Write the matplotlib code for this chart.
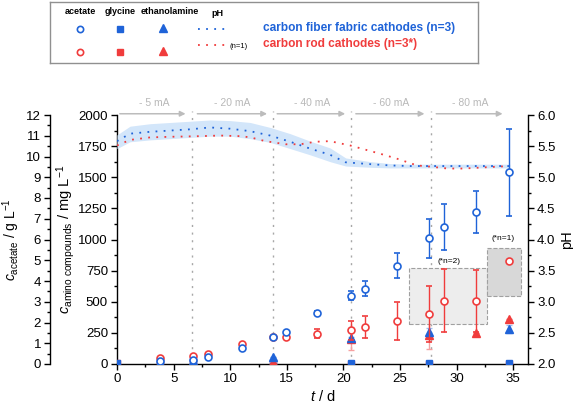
import matplotlib.pyplot as plt
import numpy as np
from matplotlib.patches import Rectangle

plt.rcParams['font.family'] = ['Liberation Sans', 'DejaVu Sans']
plt.rcParams['mathtext.fontset'] = 'custom'
plt.rcParams['mathtext.rm'] = 'Liberation Sans'
plt.rcParams['mathtext.it'] = 'Liberation Sans:italic'

BLUE = '#1f63d8'
RED = '#f03c3c'

# acetate (g/L)
t_ac = [3.8, 6.7, 8.0, 11.0, 13.8, 14.9, 17.7, 20.7, 21.9, 24.7, 27.6, 28.9, 31.7, 34.6]
ac_fiber = [0.15, 0.2, 0.32, 0.75, 1.3, 1.55, 2.45, 3.3, 3.63, 4.74, 6.05, 6.6, 7.33, 9.24]
ac_fiber_err = [0, 0, 0, 0, 0.05, 0.05, 0.1, 0.2, 0.36, 0.6, 0.95, 1.1, 1.0, 2.1]
ac_rod = [0.27, 0.39, 0.48, 0.95, 1.28, 1.3, 1.45, 1.62, 1.77, 2.07, 2.43, 3.06, 3.03, 4.95]
ac_rod_err = [0, 0, 0, 0, 0.05, 0.1, 0.22, 0.45, 0.54, 0.92, 1.35, 1.5, 1.5, 0]

# glycine (mg/L)
t_gly = [0, 3.8, 6.7, 13.8, 20.7, 27.6, 34.6]
gly_fiber = [10, 5, 20, 15, 5, 5, 5]
gly_rod = [5, 3, 15, 10, 3, 3, 3]

# ethanolamine (mg/L)
t_eth = [6.7, 13.8, 20.7, 27.6, 31.7, 34.6]
eth_fiber = [25, 55, 210, 260, np.nan, 280]
eth_fiber_err = [0, 0, 10, 30, 0, 35]
eth_rod = [10, 20, 200, 235, 250, 365]
eth_rod_err = [0, 0, 90, 115, 0, 0]

# pH
t_ph_fiber = [0, 1.15, 2.92, 4.69, 6.45, 8.22, 9.99, 11.76, 13.53, 15.3, 17.06, 18.83,
              20.2, 22.4, 24.1, 25.9, 27.7, 29.4, 31.2, 33.0, 34.7]
ph_fiber = [5.58, 5.70, 5.73, 5.75, 5.77, 5.80, 5.78, 5.74, 5.67, 5.57, 5.46, 5.36,
            5.24, 5.21, 5.19, 5.18, 5.18, 5.18, 5.18, 5.18, 5.18]
ph_fiber_hi = [5.68, 5.82, 5.86, 5.88, 5.90, 5.92, 5.91, 5.88, 5.80, 5.70, 5.58, 5.47,
               5.31, 5.25, 5.22, 5.21, 5.21, 5.21, 5.21, 5.21, 5.21]
ph_fiber_lo = [5.46, 5.57, 5.60, 5.62, 5.64, 5.66, 5.66, 5.62, 5.56, 5.46, 5.36, 5.25,
               5.18, 5.16, 5.15, 5.15, 5.15, 5.15, 5.15, 5.15, 5.15]
t_ph_rod = [0, 1.15, 2.92, 4.69, 7.34, 9.1, 10.9, 11.8, 13.1, 14.9, 16.2, 17.5, 18.8,
            20.6, 23.2, 24.7, 26.5, 27.7, 29.2, 30.6, 33.6, 34.7]
ph_rod = [5.51, 5.60, 5.64, 5.65, 5.66, 5.67, 5.66, 5.64, 5.58, 5.53, 5.53, 5.57, 5.58,
          5.51, 5.38, 5.30, 5.19, 5.17, 5.14, 5.14, 5.17, 5.18]

# current phases
phase_edges = [0, 6.6, 13.8, 20.7, 27.7, 34.6]
phase_labels = ['- 5 mA', '- 20 mA', '- 40 mA', '- 60 mA', '- 80 mA']

fig = plt.figure(figsize=(5.73, 4.05), dpi=100)
ax = fig.add_axes([117 / 573, 41 / 405, 411 / 573, 249 / 405])
ax_ph = ax.twinx()
ax_ac = ax.twinx()

ax.set_xlim(0, 36.3)
ax.set_ylim(0, 2000)
ax_ph.set_ylim(2, 6)
ax_ac.set_ylim(0, 12)

# vertical phase lines and arrows
for x in phase_edges[1:-1]:
    ax.plot([x, x], [0, 2030], ls=(0, (1.5, 4)), color='#a8a8a8', lw=1, clip_on=False, zorder=1)
gaps = [0, 0.25, 0.1, 0.15, 0.25]
for i, lab in enumerate(phase_labels):
    x0 = phase_edges[i] + gaps[i]
    x1 = phase_edges[i + 1] - 0.3
    ax.annotate('', xy=(x1, 2010), xytext=(x0, 2010),
                arrowprops=dict(arrowstyle='-|>', color='#bcbcbc', lw=1.1, mutation_scale=8),
                annotation_clip=False)
    ax.text((phase_edges[i] + phase_edges[i + 1]) / 2, 2097, lab, ha='center', va='center',
            fontsize=7.5, color='#b8b8b8')

# gray boxes (pH coordinates)
ax_ph.add_patch(Rectangle((25.8, 2.64), 6.9, 0.90, facecolor='#ededed', edgecolor='#a0a0a0',
                          ls='--', lw=0.8, zorder=0))
ax_ph.add_patch(Rectangle((32.7, 3.10), 3.0, 0.77, facecolor='#d8d8d8', edgecolor='#a0a0a0',
                          ls='--', lw=0.8, zorder=0))
ax_ph.text(29.3, 3.65, '(*n=2)', fontsize=6, ha='center', va='center')
ax_ph.text(34.1, 4.02, '(*n=1)', fontsize=6, ha='center', va='center')

# pH
ax_ph.fill_between(t_ph_fiber, ph_fiber_lo, ph_fiber_hi, color='#d3e6fa', lw=0, zorder=1)
ax_ph.plot(t_ph_rod, ph_rod, ls=(0, (1, 3.5)), color=RED, lw=1.3, zorder=2)
ax_ph.plot(t_ph_fiber, ph_fiber, ls=(0, (1, 3.5)), color=BLUE, lw=1.3, zorder=2)

# glycine
ax.plot(t_gly, gly_rod, 's', color=RED, ms=4.5, zorder=3)
ax.plot(t_gly, gly_fiber, 's', color=BLUE, ms=4.5, zorder=3)

# ethanolamine
ax.errorbar(t_eth, eth_rod, yerr=eth_rod_err, fmt='^', color=RED, ms=5.5, ecolor='#f6a0a0',
            elinewidth=1, capsize=2.5, zorder=3)
ax.errorbar(t_eth, eth_fiber, yerr=eth_fiber_err, fmt='^', color=BLUE, ms=5.5, ecolor='#9cbdf0',
            elinewidth=1, capsize=2.5, zorder=3)

# acetate
ax_ac.errorbar(t_ac, ac_rod, yerr=ac_rod_err, fmt='o', mfc='white', mec=RED, mew=1.2, ms=5,
               ecolor=RED, elinewidth=1, capsize=2.5, zorder=4)
ax_ac.errorbar(t_ac, ac_fiber, yerr=ac_fiber_err, fmt='o', mfc='white', mec=BLUE, mew=1.2, ms=5,
               ecolor=BLUE, elinewidth=1, capsize=2.5, zorder=4)

# spines / ticks
for a in (ax, ax_ph, ax_ac):
    a.spines['top'].set_visible(False)
    a.patch.set_visible(False)
ax.spines['right'].set_visible(False)
ax_ac.spines['right'].set_visible(False)
ax_ac.spines['bottom'].set_visible(False)
ax_ph.spines['left'].set_visible(False)
ax_ph.spines['bottom'].set_visible(False)
ax_ac.spines['left'].set_visible(True)
ax_ac.spines['left'].set_position(('axes', -67 / 411))
ax_ac.yaxis.set_ticks_position('left')
ax_ac.yaxis.set_label_position('left')

ax.set_xticks(np.arange(0, 36, 5))
ax.set_xticks(np.arange(0, 36.3, 2.5), minor=True)
ax.set_yticks(np.arange(0, 2001, 250))
ax.set_yticks(np.arange(0, 2001, 125), minor=True)
ax_ph.set_yticks(np.arange(2, 6.01, 0.5))
ax_ph.set_yticks(np.arange(2, 6.01, 0.25), minor=True)
ax_ph.set_yticklabels([f'{v:.1f}' for v in np.arange(2, 6.01, 0.5)])
ax_ac.set_yticks(np.arange(0, 13, 1))
ax_ac.set_yticks(np.arange(0, 12.01, 0.5), minor=True)

for a in (ax, ax_ph, ax_ac):
    a.tick_params(which='major', length=4, width=1, labelsize=9.5, direction='out', pad=2.5)
    a.tick_params(which='minor', length=2.5, width=1, direction='out')
    for s in a.spines.values():
        s.set_linewidth(1)

ax.set_xlabel(r'$t$ / d', fontsize=10.5, labelpad=3)
ax.set_ylabel(r'$c_{\mathrm{amino\ compounds}}$ / mg L$^{-1}$', fontsize=10.5, labelpad=1)
ax_ac.set_ylabel(r'$c_{\mathrm{acetate}}$ / g L$^{-1}$', fontsize=10, labelpad=3)
ax_ph.set_ylabel('pH', fontsize=10.5, labelpad=3)

# legend box
lg = fig.add_axes([50 / 573, 1 - 63 / 405, 428 / 573, 61 / 405])
lg.set_xlim(50, 478)
lg.set_ylim(63, 2)
lg.set_xticks([])
lg.set_yticks([])
for s in lg.spines.values():
    s.set_edgecolor('#909090')
    s.set_linewidth(1)
for x, lab in [(80, 'acetate'), (120, 'glycine'), (170, 'ethanolamine'), (217, 'pH')]:
    lg.text(x, 14 if lab == 'pH' else 12, lab, ha='center', va='center', fontsize=6.5,
            fontweight='bold')
for y, c in [(29, BLUE), (52, RED)]:
    lg.plot(80, y, 'o', mfc='white', mec=c, mew=1.2, ms=4.5)
    lg.plot(120, y, 's', color=c, ms=4.5)
    lg.plot(163, y - 1, '^', color=c, ms=5.5)
lg.plot([198, 228], [29, 29], ls=(0, (1, 3.5)), color=BLUE, lw=1.3)
lg.plot([198, 228], [45, 45], ls=(0, (1, 3.5)), color=RED, lw=1.3)
lg.text(230, 46, '(n=1)', fontsize=5.5, va='center')
lg.text(263, 28, 'carbon fiber fabric cathodes (n=3)', color=BLUE, fontsize=8.6, fontweight='bold',
        va='center')
lg.text(263, 44, 'carbon rod cathodes (n=3*)', color=RED, fontsize=8.6, fontweight='bold',
        va='center')

fig.savefig('out.png', dpi=100)
